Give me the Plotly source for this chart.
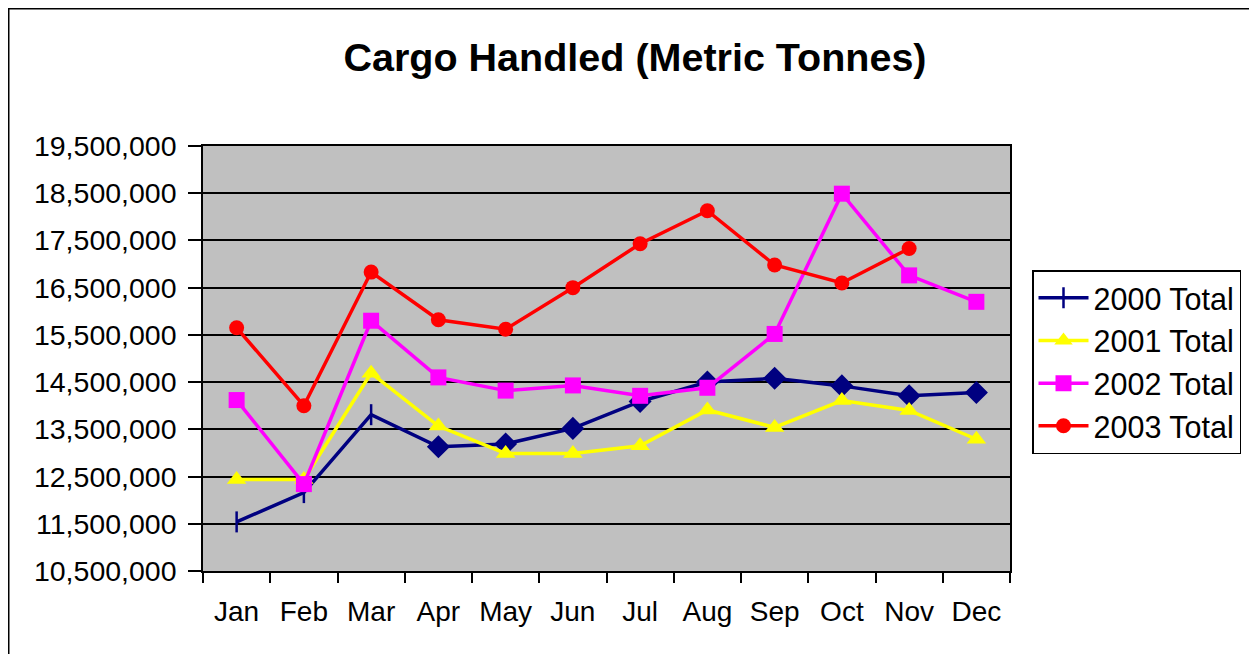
import plotly.graph_objects as go

months = ["Jan", "Feb", "Mar", "Apr", "May", "Jun", "Jul", "Aug", "Sep", "Oct", "Nov", "Dec"]

total_2000 = [11540000, 12160000, 13810000, 13130000, 13190000, 13520000,
              14090000, 14500000, 14580000, 14420000, 14210000, 14280000]
total_2001 = [12440000, 12440000, 14690000, 13570000, 12990000, 12990000,
              13150000, 13910000, 13540000, 14110000, 13900000, 13290000]
total_2002 = [14120000, 12340000, 15800000, 14600000, 14320000, 14430000,
              14210000, 14380000, 15520000, 18490000, 16760000, 16200000]
total_2003 = [15650000, 14000000, 16830000, 15820000, 15620000, 16500000,
              17430000, 18130000, 16980000, 16600000, 17330000, None]

y_ticks = list(range(10500000, 19500001, 1000000))

FONT = "Arial, Liberation Sans, sans-serif"

fig = go.Figure()

sym2000 = ["line-ns", "line-ns", "line-ns"] + ["diamond"] * 9
fig.add_trace(go.Scatter(
    x=months, y=total_2000, name="2000 Total", mode="lines+markers",
    line=dict(color="#000080", width=3.5),
    marker=dict(symbol=sym2000, size=15, color="#000080",
                line=dict(color="#000080", width=2.5)),
))
fig.add_trace(go.Scatter(
    x=months, y=total_2001, name="2001 Total", mode="lines+markers",
    line=dict(color="#FFFF00", width=3.5),
    marker=dict(symbol="triangle-up", size=17, color="#FFFF00"),
))
fig.add_trace(go.Scatter(
    x=months, y=total_2002, name="2002 Total", mode="lines+markers",
    line=dict(color="#FF00FF", width=3.5),
    marker=dict(symbol="square", size=16, color="#FF00FF"),
))
fig.add_trace(go.Scatter(
    x=months, y=total_2003, name="2003 Total", mode="lines+markers",
    line=dict(color="#FF0000", width=3.5),
    marker=dict(symbol="circle", size=15, color="#FF0000"),
))

# page body has an 8px margin; figure coordinates are offset by it
OFF = 8
FW, FH = 1257 - OFF, 654 - OFF
L, T = 203 - OFF, 146 - OFF
R = FW - (1010 - OFF)
B = FH - (571 - OFF)
W, H = FW - L - R, FH - T - B

fig.update_layout(
    width=FW, height=FH,
    margin=dict(l=L, r=R, t=T, b=B, pad=0),
    paper_bgcolor="white",
    plot_bgcolor="#C0C0C0",
    font=dict(family=FONT, size=28, color="black"),
    title=dict(text="<b>Cargo Handled (Metric Tonnes)</b>",
               font=dict(family=FONT, size=39.5, color="black"),
               x=(635 - OFF) / FW, xanchor="center",
               y=1 - (57 - OFF) / FH, yanchor="middle"),
    showlegend=True,
    legend=dict(x=(1032 - 203) / W, xanchor="left", y=(571 - 270) / H, yanchor="top",
                bordercolor="black", borderwidth=1.5, bgcolor="white",
                font=dict(family=FONT, size=30.5, color="black"),
                itemwidth=50, tracegroupgap=0),
    xaxis=dict(type="category", range=[-0.5, 11.5], autorange=False,
               showgrid=False, tickson="boundaries",
               ticks="outside", ticklen=10, tickcolor="black", tickwidth=1.5,
               showline=True, linecolor="black", linewidth=1.5, mirror=True,
               tickfont=dict(family=FONT, size=28), zeroline=False,
               ticklabelstandoff=15, fixedrange=True),
    yaxis=dict(range=[10500000, 19500000], tickvals=y_ticks, tickformat=",d",
               showgrid=True, gridcolor="black", gridwidth=1.5,
               ticks="outside", ticklen=13, tickcolor="black", tickwidth=1.5,
               showline=True, linecolor="black", linewidth=1.5, mirror=True,
               tickfont=dict(family=FONT, size=28.5), zeroline=False,
               ticklabelstandoff=6, fixedrange=True),
)

# Outer chart frame (extends past right and bottom edges as in the original)
fig.add_shape(type="rect", xref="paper", yref="paper",
              x0=(0.5 - L) / W, x1=(FW + 20 - L) / W,
              y0=-(B + 20) / H, y1=1 + (T - 0.5) / H,
              line=dict(color="black", width=2), fillcolor="rgba(0,0,0,0)",
              layer="below")

fig.write_html("out.html")
